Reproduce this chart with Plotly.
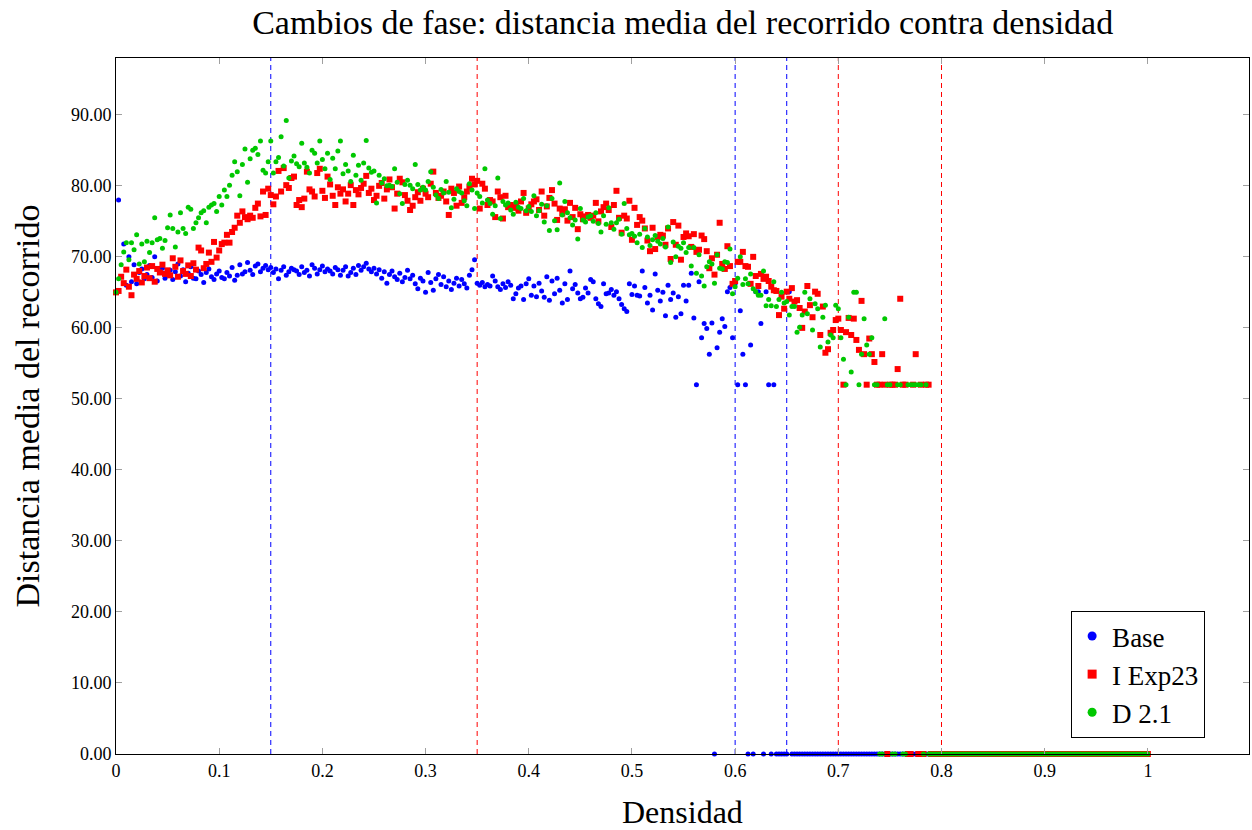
import plotly.graph_objects as go

# Densidad muestreada en pasos de 0.0025 entre 0 y 1 (401 valores)
densidad = [round(i * 0.0025, 4) for i in range(401)]

# Distancia media del recorrido por densidad, 20 valores por fila (0.05 de densidad)
base_dist = [
    65.0, 78.0, 67.2, 71.8, 66.0, 70.0, 66.5, 68.9, 66.2, 67.8, 68.3, 66.9, 67.5, 68.8, 67.1, 70.0, 66.6, 67.9, 68.4, 67.0,
    67.4, 68.1, 66.8, 67.9, 69.0, 67.3, 68.2, 66.5, 67.7, 68.6, 67.0, 66.9, 68.0, 67.5, 66.4, 67.8, 68.3, 67.2, 66.8, 67.6,
    68.0, 67.1, 66.9, 67.8, 67.3, 68.5, 66.7, 67.4, 68.9, 67.6, 67.9, 69.2, 68.1, 67.5, 68.7, 69.0, 67.9, 68.4, 68.8, 68.2,
    68.5, 67.8, 68.3, 66.9, 68.1, 68.6, 67.4, 67.9, 68.4, 68.2, 68.0, 67.5, 68.6, 67.8, 68.1, 67.3, 68.9, 68.4, 67.6, 68.2,
    68.7, 67.9, 68.3, 68.0, 67.6, 68.5, 68.2, 67.4, 68.1, 68.6, 67.3, 67.8, 68.4, 67.5, 68.8, 68.1, 68.6, 69.1, 68.3, 67.9,
    68.4, 67.6, 68.2, 67.0, 67.9, 66.3, 67.5, 68.0, 67.2, 66.8, 67.7, 66.5, 67.1, 68.1, 66.9, 67.4, 66.2, 65.5, 67.0, 66.6,
    65.0, 67.8, 66.4, 65.3, 66.9, 67.5, 66.1, 67.2, 65.8, 66.6, 65.4, 66.3, 67.0, 65.9, 66.8, 66.2, 65.6, 67.4, 68.2, 69.6,
    66.3, 66.0, 66.4, 65.8, 66.1, 65.9, 67.3, 66.6, 65.8, 65.4, 66.2, 65.7, 66.5, 66.0, 64.1, 64.8, 65.6, 65.9, 64.0, 66.2,
    66.9, 64.6, 65.9, 64.4, 66.3, 65.2, 64.3, 67.2, 63.9, 66.6, 64.8, 67.0, 65.3, 63.5, 66.2, 64.0, 68.0, 65.5, 66.1, 64.9,
    64.1, 64.3, 65.6, 64.9, 66.8, 66.5, 64.1, 63.4, 63.0, 66.2, 64.8, 64.9, 65.4, 64.6, 65.1, 64.1, 63.3, 62.7, 62.3, 66.2,
    64.7, 65.9, 64.6, 64.5, 68.0, 65.7, 63.5, 64.6, 62.5, 67.6, 65.3, 63.8, 65.0, 61.7, 66.0, 64.0, 64.9, 61.5, 64.4, 62.0,
    66.0, 63.8, 66.0, 67.7, 61.4, 52.0, 66.5, 58.6, 60.6, 59.9, 56.3, 60.7, 0.0, 57.2, 59.4, 61.3, 60.2, 65.1, 65.7, 58.6,
    66.2, 52.0, 62.4, 56.3, 52.0, 0.0, 57.6, 0.0, 65.1, 65.1, 60.6, 0.0, 65.1, 52.0, 0.0, 52.0, 0.0, 0.0, 0.0, 0.0,
    0.0, 65.1, 0.0, 0.0, 0.0, 0.0, 0.0, 0.0, 0.0, 0.0, 0.0, 0.0, 0.0, 0.0, 0.0, 0.0, 0.0, 0.0, 0.0, 0.0,
    0.0, 0.0, 0.0, 0.0, 0.0, 0.0, 0.0, 0.0, 0.0, 0.0, 0.0, 0.0, 0.0, 0.0, 0.0, 0.0, 0.0, 0.0, 0.0, 0.0,
    0.0, 0.0, 0.0, 0.0, 0.0, 0.0, 0.0, 0.0, 0.0, 0.0, 0.0, 0.0, 0.0, 0.0, 0.0, 0.0, 0.0, 0.0, 0.0, 0.0,
    0.0, 0.0, 0.0, 0.0, 0.0, 0.0, 0.0, 0.0, 0.0, 0.0, 0.0, 0.0, 0.0, 0.0, 0.0, 0.0, 0.0, 0.0, 0.0, 0.0,
    0.0, 0.0, 0.0, 0.0, 0.0, 0.0, 0.0, 0.0, 0.0, 0.0, 0.0, 0.0, 0.0, 0.0, 0.0, 0.0, 0.0, 0.0, 0.0, 0.0,
    0.0, 0.0, 0.0, 0.0, 0.0, 0.0, 0.0, 0.0, 0.0, 0.0, 0.0, 0.0, 0.0, 0.0, 0.0, 0.0, 0.0, 0.0, 0.0, 0.0,
    0.0, 0.0, 0.0, 0.0, 0.0, 0.0, 0.0, 0.0, 0.0, 0.0, 0.0, 0.0, 0.0, 0.0, 0.0, 0.0, 0.0, 0.0, 0.0, 0.0,
    0.0,
]

iexp23_dist = [
    65.0, 65.2, 67.2, 66.3, 68.2, 65.8, 64.6, 67.5, 66.9, 68.0, 66.4, 67.3, 68.5, 67.0, 68.7, 66.5, 68.3, 67.8, 68.9, 67.6,
    68.1, 67.4, 69.8, 68.6, 67.2, 69.5, 68.0, 67.6, 68.8, 67.3, 69.1, 68.2, 71.3, 70.9, 68.4, 69.0, 70.6, 69.3, 72.1, 69.9,
    70.9, 71.8, 72.0, 73.1, 72.0, 73.5, 74.1, 75.8, 74.8, 76.4, 75.6, 75.3, 75.8, 75.5, 76.9, 77.5, 75.7, 79.2, 75.9, 79.6,
    78.7, 77.4, 78.5, 82.1, 79.2, 82.5, 80.1, 79.7, 81.1, 81.3, 77.3, 78.0, 77.0, 78.2, 82.0, 79.5, 79.2, 78.5, 81.8, 82.4,
    79.3, 78.3, 81.3, 80.2, 78.6, 77.3, 79.8, 78.9, 79.5, 77.8, 78.9, 80.1, 77.3, 79.4, 78.8, 79.7, 80.3, 81.4, 79.0, 79.6,
    78.0, 78.6, 80.0, 80.4, 78.2, 79.5, 80.9, 79.8, 76.8, 78.9, 81.0, 80.5, 78.7, 77.9, 76.6, 77.2, 78.4, 79.1, 77.9, 79.6,
    78.9, 78.4, 80.3, 82.0, 79.0, 78.3, 78.6, 79.2, 77.8, 75.9, 79.6, 79.0, 77.2, 79.9, 77.6, 78.4, 79.2, 79.9, 81.0, 80.2,
    80.7, 76.8, 80.3, 79.6, 77.3, 78.0, 77.8, 75.6, 79.2, 78.4, 75.4, 78.6, 77.0, 77.3, 76.9, 77.1, 76.5, 77.8, 79.0, 76.2,
    76.8, 77.4, 77.8, 78.1, 76.6, 79.2, 75.8, 77.1, 78.3, 79.4, 77.5, 75.2, 76.8, 76.1, 76.7, 75.1, 77.6, 75.6, 76.9, 73.9,
    76.0, 75.3, 75.7, 75.9, 75.5, 75.8, 77.6, 75.0, 76.4, 77.0, 77.5, 76.6, 74.2, 77.3, 79.3, 75.5, 73.4, 75.8, 75.4, 77.9,
    72.4, 76.9, 74.5, 75.6, 75.1, 74.0, 72.3, 70.8, 74.1, 71.1, 72.8, 73.1, 73.0, 71.7, 74.0, 69.7, 74.9, 71.7, 74.4, 69.6,
    72.8, 73.3, 72.9, 71.4, 73.2, 70.7, 71.0, 73.0, 72.5, 70.8, 68.4, 69.8, 67.5, 70.3, 74.8, 69.0, 68.3, 71.5, 68.7, 66.2,
    66.6, 69.3, 69.3, 70.7, 68.7, 68.6, 66.2, 70.0, 67.3, 65.9, 67.6, 66.9, 67.2, 66.6, 65.8, 65.3, 65.2, 61.8, 64.4, 62.7,
    65.1, 64.1, 65.6, 63.7, 63.9, 62.8, 60.0, 62.3, 65.9, 63.2, 61.5, 65.1, 64.8, 59.0, 63.0, 56.5, 57.0, 59.3, 59.7, 61.1,
    61.3, 59.7, 52.0, 59.4, 61.4, 59.0, 61.3, 58.3, 56.9, 63.8, 56.3, 52.0, 58.5, 56.3, 55.2, 52.0, 52.0, 56.3, 52.0, 0.0,
    52.0, 52.0, 52.0, 54.2, 64.1, 52.0, 52.0, 0.0, 0.0, 52.0, 56.3, 0.0, 52.0, 0.0, 52.0, 52.0, 0.0, 0.0, 0.0, 0.0,
    0.0, 0.0, 0.0, 0.0, 0.0, 0.0, 0.0, 0.0, 0.0, 0.0, 0.0, 0.0, 0.0, 0.0, 0.0, 0.0, 0.0, 0.0, 0.0, 0.0,
    0.0, 0.0, 0.0, 0.0, 0.0, 0.0, 0.0, 0.0, 0.0, 0.0, 0.0, 0.0, 0.0, 0.0, 0.0, 0.0, 0.0, 0.0, 0.0, 0.0,
    0.0, 0.0, 0.0, 0.0, 0.0, 0.0, 0.0, 0.0, 0.0, 0.0, 0.0, 0.0, 0.0, 0.0, 0.0, 0.0, 0.0, 0.0, 0.0, 0.0,
    0.0, 0.0, 0.0, 0.0, 0.0, 0.0, 0.0, 0.0, 0.0, 0.0, 0.0, 0.0, 0.0, 0.0, 0.0, 0.0, 0.0, 0.0, 0.0, 0.0,
    0.0,
]

d21_dist = [
    65.0, 66.9, 68.9, 70.7, 72.0, 69.6, 72.0, 71.0, 73.1, 69.0, 71.8, 69.3, 72.2, 70.6, 72.0, 75.5, 72.4, 72.6, 71.2, 72.3,
    74.1, 75.9, 74.0, 71.4, 73.5, 76.2, 74.0, 73.3, 77.0, 76.7, 74.0, 74.8, 75.5, 76.2, 76.5, 74.8, 77.0, 77.3, 77.5, 76.4,
    78.5, 77.3, 79.4, 78.5, 80.1, 81.5, 83.4, 82.0, 78.6, 83.0, 85.2, 80.5, 83.8, 85.0, 85.3, 84.4, 86.3, 82.2, 81.8, 83.4,
    86.3, 81.8, 83.4, 84.0, 86.9, 82.8, 89.2, 81.1, 83.5, 84.2, 83.1, 82.7, 86.0, 83.2, 82.6, 81.8, 85.0, 84.6, 83.2, 86.3,
    83.7, 82.4, 84.6, 80.9, 83.9, 82.4, 84.9, 86.3, 81.7, 83.0, 82.1, 80.6, 84.3, 81.5, 82.9, 80.8, 83.2, 86.4, 82.5, 81.9,
    82.1, 77.6, 81.5, 80.4, 81.0, 80.0, 80.1, 79.9, 82.4, 80.5, 78.9, 77.5, 80.2, 80.8, 80.1, 79.6, 83.0, 80.2, 79.4, 79.8,
    79.4, 80.6, 82.0, 79.8, 78.7, 78.2, 79.5, 79.0, 80.6, 79.1, 76.9, 78.1, 79.6, 79.2, 79.0, 77.9, 77.2, 80.3, 79.4, 76.8,
    79.0, 78.5, 77.6, 82.4, 78.0, 77.5, 76.0, 77.2, 81.1, 75.4, 77.8, 77.3, 77.6, 76.6, 76.0, 77.7, 77.0, 76.8, 78.2, 76.5,
    77.1, 76.4, 78.6, 75.8, 76.5, 77.4, 74.9, 77.2, 73.7, 78.2, 75.1, 73.8, 80.4, 75.9, 77.8, 76.2, 75.5, 74.5, 75.2, 72.5,
    76.8, 75.2, 74.9, 75.6, 75.8, 75.0, 76.2, 74.7, 73.5, 75.8, 74.6, 76.9, 74.8, 73.9, 74.8, 75.3, 73.2, 77.5, 74.0, 73.1,
    73.3, 72.9, 72.0, 73.2, 71.3, 74.0, 72.8, 71.6, 72.4, 73.0, 72.2, 71.8, 72.6, 71.4, 74.2, 69.2, 72.1, 70.0, 71.5, 71.2,
    72.0, 70.6, 71.3, 68.7, 71.3, 67.7, 70.3, 67.3, 65.9, 68.6, 69.3, 69.0, 66.3, 70.3, 68.4, 68.3, 69.3, 69.2, 71.1, 64.8,
    65.8, 67.0, 70.0, 66.1, 66.9, 66.2, 67.6, 65.5, 65.1, 64.6, 64.6, 68.0, 63.1, 64.0, 63.1, 66.5, 63.0, 64.0, 65.0, 63.5,
    63.7, 61.8, 63.0, 63.0, 59.4, 60.1, 61.8, 65.0, 62.0, 64.1, 59.7, 63.4, 62.7, 57.3, 61.5, 63.2, 58.0, 59.0, 58.6, 63.2,
    62.7, 58.6, 55.6, 52.0, 61.5, 53.8, 65.0, 65.0, 52.0, 56.3, 61.3, 57.6, 56.3, 58.6, 52.0, 52.0, 0.0, 0.0, 61.3, 52.0,
    52.0, 0.0, 0.0, 52.0, 52.0, 0.0, 0.0, 52.0, 52.0, 52.0, 52.0, 52.0, 52.0, 0.0, 52.0, 0.0, 0.0, 0.0, 0.0, 0.0,
    0.0, 0.0, 0.0, 0.0, 0.0, 0.0, 0.0, 0.0, 0.0, 0.0, 0.0, 0.0, 0.0, 0.0, 0.0, 0.0, 0.0, 0.0, 0.0, 0.0,
    0.0, 0.0, 0.0, 0.0, 0.0, 0.0, 0.0, 0.0, 0.0, 0.0, 0.0, 0.0, 0.0, 0.0, 0.0, 0.0, 0.0, 0.0, 0.0, 0.0,
    0.0, 0.0, 0.0, 0.0, 0.0, 0.0, 0.0, 0.0, 0.0, 0.0, 0.0, 0.0, 0.0, 0.0, 0.0, 0.0, 0.0, 0.0, 0.0, 0.0,
    0.0, 0.0, 0.0, 0.0, 0.0, 0.0, 0.0, 0.0, 0.0, 0.0, 0.0, 0.0, 0.0, 0.0, 0.0, 0.0, 0.0, 0.0, 0.0, 0.0,
    0.0,
]

# Densidades críticas marcadas con líneas discontinuas
lineas_azules = [0.15, 0.6, 0.65]
lineas_rojas = [0.35, 0.7, 0.8]

x_ticks = [0, 0.1, 0.2, 0.3, 0.4, 0.5, 0.6, 0.7, 0.8, 0.9, 1]
x_tick_text = ["0", "0.1", "0.2", "0.3", "0.4", "0.5", "0.6", "0.7", "0.8", "0.9", "1"]
y_ticks = [0, 10, 20, 30, 40, 50, 60, 70, 80, 90]

FONT = "Liberation Serif"
AZUL = "#0000ff"
ROJO = "#ff0000"
VERDE = "#00c800"

series = [
    ("Base", base_dist, AZUL, "circle", 5),
    ("I Exp23", iexp23_dist, ROJO, "square", 6),
    ("D 2.1", d21_dist, VERDE, "circle", 5),
]

fig = go.Figure()

for nombre, valores, color, simbolo, tam in series:
    fig.add_trace(go.Scatter(
        x=densidad, y=valores, mode="markers", name=nombre,
        marker=dict(color=color, symbol=simbolo, size=tam, line=dict(width=0)),
        cliponaxis=False, showlegend=False,
    ))

# Entradas de la leyenda con marcadores algo mayores
for nombre, valores, color, simbolo, tam in series:
    fig.add_trace(go.Scatter(
        x=[None], y=[None], mode="markers", name=nombre,
        marker=dict(color=color, symbol=simbolo, size=9, line=dict(width=0)),
        showlegend=True,
    ))

for xv in lineas_azules:
    fig.add_shape(type="line", xref="x", yref="paper", x0=xv, x1=xv, y0=0, y1=1,
                  line=dict(color=AZUL, width=1, dash="5px,4px"), layer="below")
for xv in lineas_rojas:
    fig.add_shape(type="line", xref="x", yref="paper", x0=xv, x1=xv, y0=0, y1=1,
                  line=dict(color=ROJO, width=1, dash="5px,4px"), layer="below")

# Título del eje horizontal
fig.add_annotation(
    text="Densidad", xref="paper", yref="paper", x=0.5, y=-0.0835,
    xanchor="center", yanchor="middle", showarrow=False,
    font=dict(family=FONT, size=32, color="black"),
)

eje = dict(
    showgrid=False, zeroline=False, showline=True, linecolor="black", linewidth=1,
    mirror="ticks", ticks="inside", ticklen=6, tickcolor="#a0a0a0", tickwidth=1,
    tickfont=dict(family=FONT, size=18, color="black"), automargin=False,
)

fig.update_layout(
    width=1252, height=830,
    margin=dict(l=116, r=3, t=58, b=76),
    paper_bgcolor="white", plot_bgcolor="white",
    font=dict(family=FONT, color="black"),
    title=dict(
        text="Cambios de fase: distancia media del recorrido contra densidad",
        x=0.5453, xanchor="center", y=1 - 22 / 830, yanchor="middle",
        font=dict(family=FONT, size=34, color="black"),
    ),
    xaxis=dict(eje, range=[0, 1.098], tickvals=x_ticks, ticktext=x_tick_text),
    yaxis=dict(
        eje, range=[0, 98], tickvals=y_ticks, tickformat=".2f",
        title=dict(text="Distancia media del recorrido", font=dict(family=FONT, size=34), standoff=21),
    ),
    legend=dict(
        x=0.843, y=0.2055, xanchor="left", yanchor="top",
        bgcolor="white", bordercolor="black", borderwidth=1,
        font=dict(family=FONT, size=27, color="black"),
        itemwidth=30, tracegroupgap=0,
    ),
)

fig.write_html("out.html")
